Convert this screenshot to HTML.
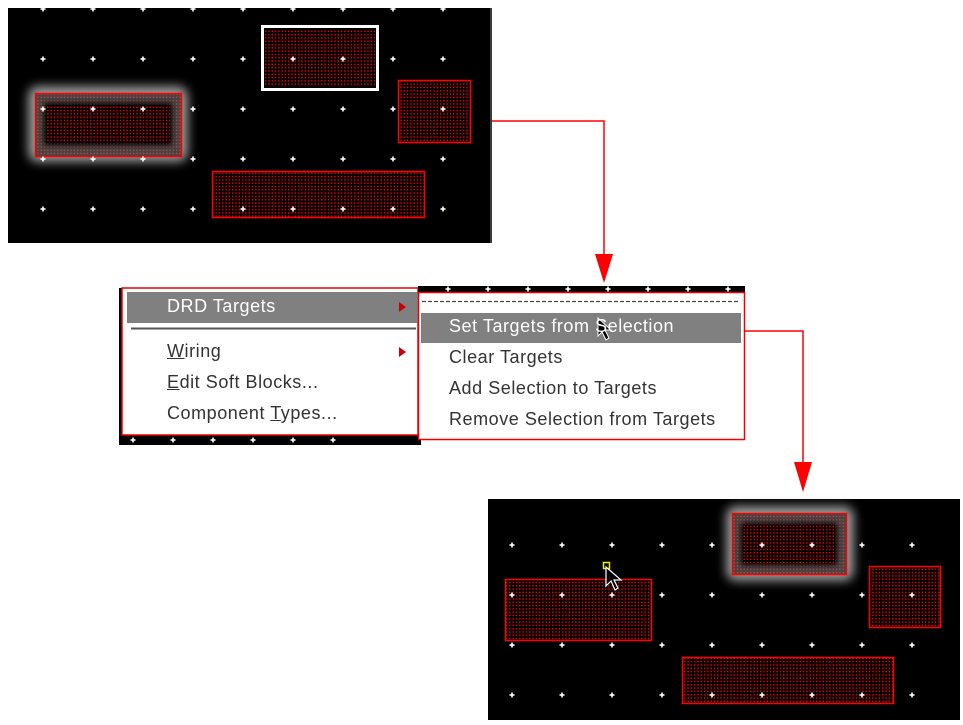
<!DOCTYPE html>
<html><head><meta charset="utf-8"><style>
body{margin:0;width:963px;height:725px;background:#fff;position:relative;overflow:hidden;font-family:"Liberation Sans",sans-serif}
.t{position:absolute;font-size:18px;letter-spacing:0.55px;color:#333;white-space:nowrap}
</style></head><body>
<svg width="963" height="725" style="position:absolute;left:0;top:0">
<defs>
<pattern id="p" width="3.3" height="3.3" patternUnits="userSpaceOnUse"><rect width="3.3" height="3.3" fill="#000"/><rect x="1" y="1" width="1.4" height="1.4" fill="#f00"/></pattern>
<filter id="g" x="-30%" y="-30%" width="160%" height="160%"><feGaussianBlur stdDeviation="5"/></filter>
<filter id="g2" x="-30%" y="-30%" width="160%" height="160%"><feGaussianBlur stdDeviation="3"/></filter>
<g id="dot"><rect x="-2.5" y="-0.8" width="5" height="1.6" fill="#fff"/><rect x="-0.8" y="-2.5" width="1.6" height="5" fill="#fff"/></g>
</defs>
<!-- top panel -->
<rect x="8" y="8" width="484" height="235" fill="#000"/>
<rect x="28" y="86" width="160" height="76" rx="10" fill="#999" filter="url(#g)"/>
<rect x="35" y="93" width="146" height="63" fill="url(#p)"/>
<rect x="35" y="93" width="146" height="63" fill="#888" opacity=".5"/>
<rect x="44" y="103" width="128" height="42" fill="#000" filter="url(#g2)"/>
<rect x="46" y="105" width="124" height="38" fill="url(#p)"/>
<rect x="35.5" y="93.5" width="146" height="63" fill="none" stroke="#f00" stroke-width="1.5"/>
<rect x="262.5" y="26.5" width="115" height="63" fill="none" stroke="#fff" stroke-width="3"/>
<rect x="265" y="30" width="110" height="56" fill="url(#p)"/>
<rect x="398.5" y="80.5" width="72" height="62" fill="url(#p)" stroke="#f00" stroke-width="1.5"/>
<rect x="212.5" y="171.5" width="212" height="46" fill="url(#p)" stroke="#f00" stroke-width="1.5"/>
<g>
<use href="#dot" x="43" y="9"/><use href="#dot" x="93" y="9"/><use href="#dot" x="143" y="9"/><use href="#dot" x="193" y="9"/><use href="#dot" x="243" y="9"/><use href="#dot" x="293" y="9"/><use href="#dot" x="343" y="9"/><use href="#dot" x="393" y="9"/><use href="#dot" x="443" y="9"/>
<use href="#dot" x="43" y="59"/><use href="#dot" x="93" y="59"/><use href="#dot" x="143" y="59"/><use href="#dot" x="193" y="59"/><use href="#dot" x="243" y="59"/><use href="#dot" x="293" y="59"/><use href="#dot" x="343" y="59"/><use href="#dot" x="393" y="59"/><use href="#dot" x="443" y="59"/>
<use href="#dot" x="43" y="109"/><use href="#dot" x="93" y="109"/><use href="#dot" x="143" y="109"/><use href="#dot" x="193" y="109"/><use href="#dot" x="243" y="109"/><use href="#dot" x="293" y="109"/><use href="#dot" x="343" y="109"/><use href="#dot" x="393" y="109"/><use href="#dot" x="443" y="109"/>
<use href="#dot" x="43" y="159"/><use href="#dot" x="93" y="159"/><use href="#dot" x="143" y="159"/><use href="#dot" x="193" y="159"/><use href="#dot" x="243" y="159"/><use href="#dot" x="293" y="159"/><use href="#dot" x="343" y="159"/><use href="#dot" x="393" y="159"/><use href="#dot" x="443" y="159"/>
<use href="#dot" x="43" y="209"/><use href="#dot" x="93" y="209"/><use href="#dot" x="143" y="209"/><use href="#dot" x="193" y="209"/><use href="#dot" x="243" y="209"/><use href="#dot" x="293" y="209"/><use href="#dot" x="343" y="209"/><use href="#dot" x="393" y="209"/><use href="#dot" x="443" y="209"/>
</g>
<line x1="491" y1="8" x2="491" y2="243" stroke="#777" stroke-width="1"/>
<!-- arrows -->
<polyline points="492,121 604,121 604,258" fill="none" stroke="#f00" stroke-width="1.5"/>
<polygon points="595,254 613,254 604,283" fill="#f00"/>
<polyline points="745,331 803,331 803,466" fill="none" stroke="#f00" stroke-width="1.5"/>
<polygon points="794,462 812,462 803,492" fill="#f00"/>
<!-- menu -->
<rect x="119" y="288" width="302" height="157" fill="#000"/>
<rect x="122" y="288" width="296" height="147" fill="#fff" stroke="#e00" stroke-width="1.5"/>
<rect x="127" y="292" width="291" height="31" fill="#808080"/>
<line x1="131" y1="328.5" x2="416" y2="328.5" stroke="#555" stroke-width="2"/>
<polygon points="399,302 399,312 406,307" fill="#c00"/>
<polygon points="399,347 399,357 406,352" fill="#c00"/>
<g><use href="#dot" x="133" y="440"/><use href="#dot" x="173" y="440"/><use href="#dot" x="213" y="440"/><use href="#dot" x="253" y="440"/><use href="#dot" x="293" y="440"/><use href="#dot" x="333" y="440"/></g>
<rect x="418" y="286" width="327" height="8" fill="#000"/>
<g><use href="#dot" x="448" y="289"/><use href="#dot" x="488" y="289"/><use href="#dot" x="528" y="289"/><use href="#dot" x="568" y="289"/><use href="#dot" x="608" y="289"/><use href="#dot" x="648" y="289"/><use href="#dot" x="688" y="289"/><use href="#dot" x="728" y="289"/></g>
<rect x="418.5" y="292.5" width="326" height="147" fill="#fff" stroke="#e00" stroke-width="1.5"/>
<line x1="422" y1="301.5" x2="738" y2="301.5" stroke="#444" stroke-width="1.3" stroke-dasharray="4,2"/>
<rect x="421" y="313" width="320" height="30" fill="#808080"/>
<!-- bottom panel -->
<rect x="488" y="499" width="472" height="221" fill="#000"/>
<rect x="726" y="506" width="128" height="75" rx="10" fill="#999" filter="url(#g)"/>
<rect x="732" y="513" width="115" height="62" fill="url(#p)"/>
<rect x="732" y="513" width="115" height="62" fill="#888" opacity=".5"/>
<rect x="741" y="523" width="96" height="42" fill="#000" filter="url(#g2)"/>
<rect x="743" y="525" width="92" height="38" fill="url(#p)"/>
<rect x="732.5" y="513.5" width="114" height="61" fill="none" stroke="#f00" stroke-width="1.5"/>
<rect x="869.5" y="566.5" width="71" height="61" fill="url(#p)" stroke="#f00" stroke-width="1.5"/>
<rect x="505.5" y="579.5" width="146" height="61" fill="url(#p)" stroke="#f00" stroke-width="1.5"/>
<rect x="682.5" y="657.5" width="211" height="46" fill="url(#p)" stroke="#f00" stroke-width="1.5"/>
<g>
<use href="#dot" x="512" y="545"/><use href="#dot" x="562" y="545"/><use href="#dot" x="612" y="545"/><use href="#dot" x="662" y="545"/><use href="#dot" x="712" y="545"/><use href="#dot" x="762" y="545"/><use href="#dot" x="812" y="545"/><use href="#dot" x="862" y="545"/><use href="#dot" x="912" y="545"/>
<use href="#dot" x="512" y="595"/><use href="#dot" x="562" y="595"/><use href="#dot" x="612" y="595"/><use href="#dot" x="662" y="595"/><use href="#dot" x="712" y="595"/><use href="#dot" x="762" y="595"/><use href="#dot" x="812" y="595"/><use href="#dot" x="862" y="595"/><use href="#dot" x="912" y="595"/>
<use href="#dot" x="512" y="645"/><use href="#dot" x="562" y="645"/><use href="#dot" x="612" y="645"/><use href="#dot" x="662" y="645"/><use href="#dot" x="712" y="645"/><use href="#dot" x="762" y="645"/><use href="#dot" x="812" y="645"/><use href="#dot" x="862" y="645"/><use href="#dot" x="912" y="645"/>
<use href="#dot" x="512" y="695"/><use href="#dot" x="562" y="695"/><use href="#dot" x="612" y="695"/><use href="#dot" x="662" y="695"/><use href="#dot" x="712" y="695"/><use href="#dot" x="762" y="695"/><use href="#dot" x="812" y="695"/><use href="#dot" x="862" y="695"/><use href="#dot" x="912" y="695"/>
</g>
<rect x="603.5" y="562.5" width="6" height="6" fill="none" stroke="#ee0" stroke-width="1.5"/>
<polygon points="606,567 606,586 611,581 615,590 618,588 614,580 621,580" fill="#000" stroke="#fff" stroke-width="1.2"/>
<polygon points="598,318 598,336 602,332 606,340 609,338 605,330 611,330" fill="#000" stroke="#fff" stroke-width="1"/>
</svg>
<div class="t" style="left:167px;top:296px;color:#fff">DRD Targets</div>
<div class="t" style="left:167px;top:341px"><u>W</u>iring</div>
<div class="t" style="left:167px;top:372px"><u>E</u>dit Soft Blocks...</div>
<div class="t" style="left:167px;top:403px">Component <u>T</u>ypes...</div>
<div class="t" style="left:449px;top:316px;color:#fff">Set Targets from Selection</div>
<div class="t" style="left:449px;top:347px">Clear Targets</div>
<div class="t" style="left:449px;top:378px">Add Selection to Targets</div>
<div class="t" style="left:449px;top:409px">Remove Selection from Targets</div>
</body></html>
